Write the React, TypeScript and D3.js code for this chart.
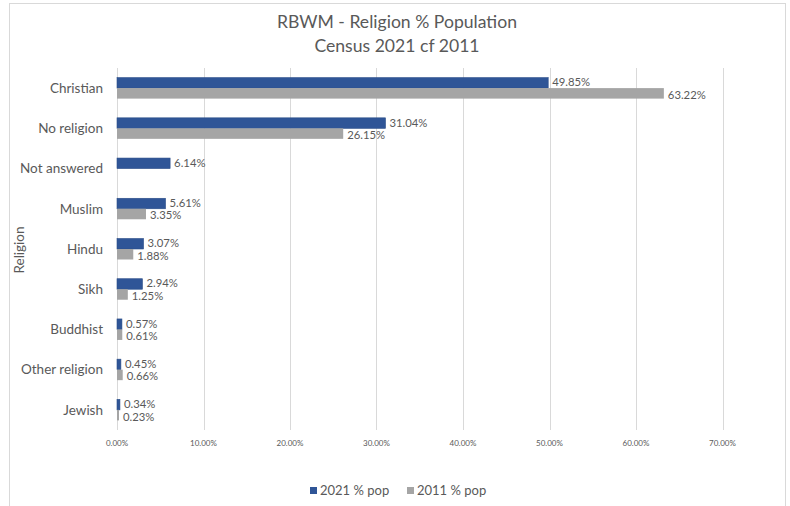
import React from "react";
import * as d3 from "d3";

const categories = ["Christian", "No religion", "Not answered", "Muslim", "Hindu", "Sikh", "Buddhist", "Other religion", "Jewish"];
const pop2021 = [49.85, 31.04, 6.14, 5.61, 3.07, 2.94, 0.57, 0.45, 0.34];
const pop2011: (number | null)[] = [63.22, 26.15, null, 3.35, 1.88, 1.25, 0.61, 0.66, 0.23];
const xTicks = [0, 10, 20, 30, 40, 50, 60, 70];
const seriesNames = ["2021 % pop", "2011 % pop"];

const W = 790;
const H = 506;
const BLUE = "#2F5597";
const GREY = "#A5A5A5";
const TEXT = "#595959";
const FONT = "Lato, 'Open Sans', sans-serif";

export default function App() {
  const x = d3.scaleLinear().domain([0, 70]).range([117, 722.5]);
  const y = d3.scaleBand().domain(categories).range([68, 430]);
  const barH = 10.5;

  return (
    <svg width={W} height={H} style={{ position: "absolute", left: 0, top: 0, fontFamily: FONT }}>
      <rect x={0} y={0} width={W} height={H} fill="#fff" />
      <rect x={9.5} y={3.5} width={776} height={510} fill="#fff" stroke="#d9d9d9" strokeWidth={1} />

      <text x={397} y={28} textAnchor="middle" fontSize={17.6} fill={TEXT}>RBWM - Religion % Population</text>
      <text x={397} y={52} textAnchor="middle" fontSize={17.6} fill={TEXT}>Census 2021 cf 2011</text>

      {xTicks.map((t) => (
        <g key={t}>
          <line x1={Math.round(x(t)) + 0.5} x2={Math.round(x(t)) + 0.5} y1={68} y2={430} stroke="#d9d9d9" strokeWidth={1} />
          <text x={x(t)} y={446} textAnchor="middle" fontSize={8} fill={TEXT}>{t.toFixed(2)}%</text>
        </g>
      ))}

      {categories.map((c, i) => {
        const cy = (y(c) as number) + y.bandwidth() / 2;
        const v1 = pop2021[i];
        const v2 = pop2011[i];
        return (
          <g key={c}>
            <text x={103} y={cy} dy="0.35em" textAnchor="end" fontSize={13.5} fill={TEXT}>{c}</text>
            <rect x={x(0)} y={cy - barH} width={x(v1) - x(0)} height={barH} fill={BLUE} stroke="#2a4d88" strokeWidth={0.6} />
            <text x={x(v1) + 4} y={cy - barH / 2 - 0.5} dy="0.35em" fontSize={11.3} fill={TEXT}>{v1.toFixed(2)}%</text>
            {v2 !== null && (
              <>
                <rect x={x(0)} y={cy} width={x(v2) - x(0)} height={barH} fill={GREY} />
                <text x={x(v2) + 4} y={cy + barH / 2 + 1.5} dy="0.35em" fontSize={11.3} fill={TEXT}>{v2.toFixed(2)}%</text>
              </>
            )}
          </g>
        );
      })}

      <text transform="translate(24,250) rotate(-90)" textAnchor="middle" fontSize={13.5} fill={TEXT}>Religion</text>

      <rect x={310} y={487} width={7} height={7} fill={BLUE} />
      <text x={320} y={495} fontSize={13} fill={TEXT}>{seriesNames[0]}</text>
      <rect x={407} y={487} width={7} height={7} fill={GREY} />
      <text x={417} y={495} fontSize={13} fill={TEXT}>{seriesNames[1]}</text>
    </svg>
  );
}
